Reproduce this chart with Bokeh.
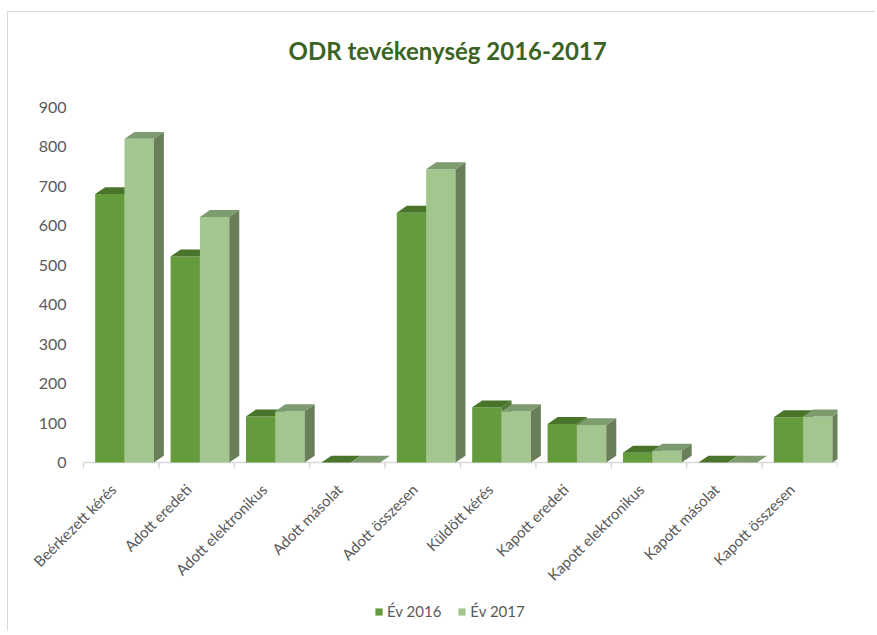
from math import pi
from bokeh.plotting import figure
from bokeh.models import Range1d, Legend, LegendItem
from bokeh.core.properties import value
from bokeh.embed import file_html
from bokeh.resources import INLINE

categories = ["Beérkezett kérés", "Adott eredeti", "Adott elektronikus", "Adott másolat",
              "Adott összesen", "Küldött kérés", "Kapott eredeti", "Kapott elektronikus",
              "Kapott másolat", "Kapott összesen"]
ev_2016 = [680, 522, 117, 0, 633, 140, 98, 25, 0, 115]
ev_2017 = [820, 622, 130, 0, 743, 130, 95, 30, 0, 117]
series_names = ["Év 2016", "Év 2017"]
y_ticks = [0, 100, 200, 300, 400, 500, 600, 700, 800, 900]
y_tick_labels = [str(t) for t in y_ticks]

# styles
front_colors = ["#639B3D", "#A3C68F"]
top_colors = ["#48752A", "#7E9A6F"]
side_colors = ["#4E7A31", "#687F5A"]
label_color = "#595959"
axis_color = "#D9D9D9"
FONT = "Lato"

bar_w = 0.389
starts = [0.155, 0.544]
dx = 0.133
dy = 17.5

# layout: frame spans page x 8..837, y 78..622; categories start at page x 83;
# value 0 at page y 460 and 900 at page y 100 (0.4 px per unit)
px_per_cat = 75.4
left_pad_px = 75
x_start = -left_pad_px / px_per_cat
n = len(categories)

p = figure(width=868, height=620, output_backend="svg", toolbar_location=None,
           x_range=Range1d(x_start, n), y_range=Range1d(-405, 955),
           x_axis_location=None, y_axis_location=None,
           min_border_left=0, min_border_right=39, min_border_top=66, min_border_bottom=10)
p.styles = {"border-top": "1px solid #d9d9d9", "border-left": "1px solid #d9d9d9",
            "margin-left": "7px", "margin-top": "11px"}

p.title.text = "ODR tevékenység 2016-2017"
p.title.text_font = FONT
p.title.text_font_style = "bold"
p.title.text_font_size = "24px"
p.title.text_color = "#3B6324"
p.title.align = "left"
p.title.offset = 280
p.title.vertical_align = "bottom"
p.title.standoff = 42

p.outline_line_color = None
p.xgrid.visible = False
p.ygrid.visible = False
p.background_fill_color = "white"
p.border_fill_color = "white"

# category axis line and boundary ticks
bounds = list(range(n + 1))
p.segment(x0=[0], y0=[0], x1=[n], y1=[0], line_color=axis_color, line_width=1.5)
p.segment(x0=bounds, y0=[0] * len(bounds), x1=bounds, y1=[-15] * len(bounds),
          line_color=axis_color, line_width=1.5)

legend_items = []
for s, vals in enumerate([ev_2016, ev_2017]):
    lefts = [i + starts[s] for i in range(n)]
    rights = [l + bar_w for l in lefts]
    r = p.quad(left=lefts, right=rights, bottom=0, top=vals,
               fill_color=front_colors[s], line_color=None)
    side_xs = [[rt, rt + dx, rt + dx, rt] for rt in rights]
    side_ys = [[0, dy, v + dy, v] for v in vals]
    p.patches(side_xs, side_ys, fill_color=side_colors[s], line_color=None)
    top_xs = [[l, rt, rt + dx, l + dx] for l, rt in zip(lefts, rights)]
    top_ys = [[v, v, v + dy, v + dy] for v in vals]
    p.patches(top_xs, top_ys, fill_color=top_colors[s], line_color=None)
    legend_items.append(LegendItem(label=series_names[s], renderers=[r]))

# category labels
centers = [i + 0.5 for i in range(n)]
p.text(x=centers, y=[0] * n, text=categories, angle=pi / 4,
       text_align="right", text_baseline="middle", x_offset=-8, y_offset=24,
       text_font=value(FONT), text_font_size="15px", text_color=label_color)

# value axis labels
p.text(x=[0] * len(y_ticks), y=y_ticks, text=y_tick_labels,
       text_align="right", text_baseline="middle", x_offset=-17,
       text_font=value(FONT), text_font_size="16px", text_color=label_color)

legend = Legend(items=legend_items, orientation="horizontal", location=(366, 2),
                label_text_font=FONT, label_text_font_size="15px",
                label_text_color=label_color, glyph_width=9, glyph_height=9,
                label_standoff=4, spacing=16, border_line_color=None,
                background_fill_alpha=0, padding=2, margin=0)
p.add_layout(legend, "center")

open("out.html", "w").write(file_html(p, INLINE))
